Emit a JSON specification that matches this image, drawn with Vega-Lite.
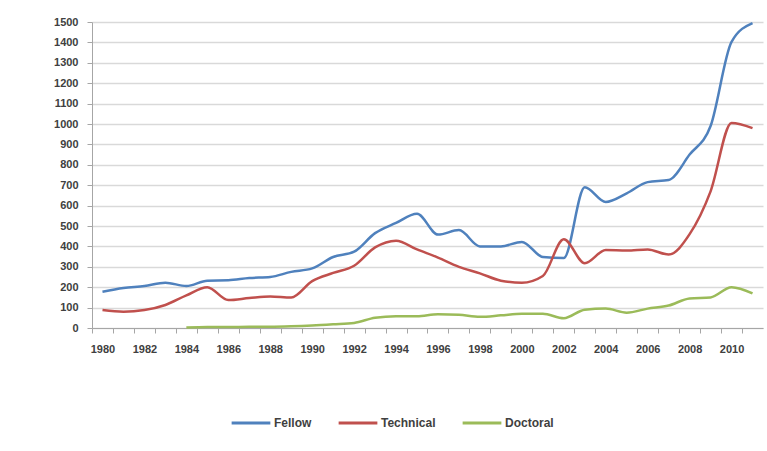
{
  "$schema": "https://vega.github.io/schema/vega-lite/v6.json",
  "autosize": "none",
  "width": 671,
  "height": 306,
  "padding": {"left": 92, "top": 22, "right": 4, "bottom": 123},
  "background": "white",
  "config": {
    "view": {"stroke": null},
    "font": "Liberation Sans",
    "axis": {"labelFont": "Liberation Sans", "labelFontSize": 11, "labelColor": "#404040", "domainColor": "#a6a6a6", "tickColor": "#a6a6a6"}
  },
  "data": {
    "values": [
      {"year": 1980, "series": "Fellow", "value": 178},
      {"year": 1981, "series": "Fellow", "value": 196},
      {"year": 1982, "series": "Fellow", "value": 206},
      {"year": 1983, "series": "Fellow", "value": 222},
      {"year": 1984, "series": "Fellow", "value": 206},
      {"year": 1985, "series": "Fellow", "value": 232},
      {"year": 1986, "series": "Fellow", "value": 234},
      {"year": 1987, "series": "Fellow", "value": 245},
      {"year": 1988, "series": "Fellow", "value": 250},
      {"year": 1989, "series": "Fellow", "value": 275},
      {"year": 1990, "series": "Fellow", "value": 292},
      {"year": 1991, "series": "Fellow", "value": 348},
      {"year": 1992, "series": "Fellow", "value": 374},
      {"year": 1993, "series": "Fellow", "value": 465},
      {"year": 1994, "series": "Fellow", "value": 515},
      {"year": 1995, "series": "Fellow", "value": 560},
      {"year": 1996, "series": "Fellow", "value": 458},
      {"year": 1997, "series": "Fellow", "value": 480},
      {"year": 1998, "series": "Fellow", "value": 400},
      {"year": 1999, "series": "Fellow", "value": 400},
      {"year": 2000, "series": "Fellow", "value": 422},
      {"year": 2001, "series": "Fellow", "value": 348},
      {"year": 2002, "series": "Fellow", "value": 343},
      {"year": 2003, "series": "Fellow", "value": 690},
      {"year": 2004, "series": "Fellow", "value": 618},
      {"year": 2005, "series": "Fellow", "value": 660},
      {"year": 2006, "series": "Fellow", "value": 715},
      {"year": 2007, "series": "Fellow", "value": 725},
      {"year": 2008, "series": "Fellow", "value": 850},
      {"year": 2009, "series": "Fellow", "value": 990},
      {"year": 2010, "series": "Fellow", "value": 1403},
      {"year": 2011, "series": "Fellow", "value": 1495},
      {"year": 1980, "series": "Technical", "value": 88},
      {"year": 1981, "series": "Technical", "value": 80},
      {"year": 1982, "series": "Technical", "value": 88},
      {"year": 1983, "series": "Technical", "value": 113},
      {"year": 1984, "series": "Technical", "value": 160},
      {"year": 1985, "series": "Technical", "value": 200},
      {"year": 1986, "series": "Technical", "value": 137},
      {"year": 1987, "series": "Technical", "value": 147},
      {"year": 1988, "series": "Technical", "value": 155},
      {"year": 1989, "series": "Technical", "value": 150},
      {"year": 1990, "series": "Technical", "value": 230},
      {"year": 1991, "series": "Technical", "value": 270},
      {"year": 1992, "series": "Technical", "value": 305},
      {"year": 1993, "series": "Technical", "value": 395},
      {"year": 1994, "series": "Technical", "value": 428},
      {"year": 1995, "series": "Technical", "value": 385},
      {"year": 1996, "series": "Technical", "value": 345},
      {"year": 1997, "series": "Technical", "value": 300},
      {"year": 1998, "series": "Technical", "value": 268},
      {"year": 1999, "series": "Technical", "value": 232},
      {"year": 2000, "series": "Technical", "value": 222},
      {"year": 2001, "series": "Technical", "value": 255},
      {"year": 2002, "series": "Technical", "value": 435},
      {"year": 2003, "series": "Technical", "value": 318},
      {"year": 2004, "series": "Technical", "value": 382},
      {"year": 2005, "series": "Technical", "value": 380},
      {"year": 2006, "series": "Technical", "value": 385},
      {"year": 2007, "series": "Technical", "value": 360},
      {"year": 2008, "series": "Technical", "value": 460},
      {"year": 2009, "series": "Technical", "value": 670},
      {"year": 2010, "series": "Technical", "value": 1005},
      {"year": 2011, "series": "Technical", "value": 980},
      {"year": 1984, "series": "Doctoral", "value": 2},
      {"year": 1985, "series": "Doctoral", "value": 5},
      {"year": 1986, "series": "Doctoral", "value": 5},
      {"year": 1987, "series": "Doctoral", "value": 6},
      {"year": 1988, "series": "Doctoral", "value": 6},
      {"year": 1989, "series": "Doctoral", "value": 8},
      {"year": 1990, "series": "Doctoral", "value": 12},
      {"year": 1991, "series": "Doctoral", "value": 18},
      {"year": 1992, "series": "Doctoral", "value": 25},
      {"year": 1993, "series": "Doctoral", "value": 50},
      {"year": 1994, "series": "Doctoral", "value": 58},
      {"year": 1995, "series": "Doctoral", "value": 58},
      {"year": 1996, "series": "Doctoral", "value": 68},
      {"year": 1997, "series": "Doctoral", "value": 65},
      {"year": 1998, "series": "Doctoral", "value": 55},
      {"year": 1999, "series": "Doctoral", "value": 62},
      {"year": 2000, "series": "Doctoral", "value": 70},
      {"year": 2001, "series": "Doctoral", "value": 70},
      {"year": 2002, "series": "Doctoral", "value": 48},
      {"year": 2003, "series": "Doctoral", "value": 90},
      {"year": 2004, "series": "Doctoral", "value": 95},
      {"year": 2005, "series": "Doctoral", "value": 75},
      {"year": 2006, "series": "Doctoral", "value": 95},
      {"year": 2007, "series": "Doctoral", "value": 110},
      {"year": 2008, "series": "Doctoral", "value": 145},
      {"year": 2009, "series": "Doctoral", "value": 150},
      {"year": 2010, "series": "Doctoral", "value": 200},
      {"year": 2011, "series": "Doctoral", "value": 170}
    ]
  },
  "mark": {"type": "line", "strokeWidth": 2.5, "interpolate": "monotone"},
  "encoding": {
    "x": {
      "field": "year",
      "type": "quantitative",
      "scale": {"domain": [1979.5, 2011.5], "nice": false, "zero": false},
      "axis": {
        "title": null,
        "values": [1980,1981,1982,1983,1984,1985,1986,1987,1988,1989,1990,1991,1992,1993,1994,1995,1996,1997,1998,1999,2000,2001,2002,2003,2004,2005,2006,2007,2008,2009,2010,2011],
        "labelExpr": "datum.value % 2 === 0 ? datum.value : ''",
        "format": "d",
        "grid": false,
        "tickSize": 5,
        "tickOffset": -10.5,
        "labelOffset": 10.5,
        "labelPadding": 10,
        "labelFontWeight": "bold",
        "labelFlush": false,
        "labelOverlap": false
      }
    },
    "y": {
      "field": "value",
      "type": "quantitative",
      "scale": {"domain": [0, 1500], "nice": false},
      "axis": {
        "title": null,
        "values": [0,100,200,300,400,500,600,700,800,900,1000,1100,1200,1300,1400,1500],
        "format": "d",
        "gridColor": "#d9d9d9",
        "gridWidth": 1.5,
        "tickSize": 5,
        "labelPadding": 9,
        "labelFontWeight": "bold"
      }
    },
    "color": {
      "field": "series",
      "type": "nominal",
      "sort": ["Fellow", "Technical", "Doctoral"],
      "scale": {"domain": ["Fellow", "Technical", "Doctoral"], "range": ["#4F81BD", "#C0504D", "#9BBB59"]},
      "legend": {
        "title": null,
        "orient": "none",
        "direction": "horizontal",
        "legendX": 138,
        "legendY": 380,
        "symbolType": "stroke",
        "symbolSize": 1500,
        "symbolStrokeWidth": 3,
        "labelFontSize": 12,
        "labelFontWeight": "bold",
        "labelColor": "#404040",
        "labelOffset": 2,
        "columnPadding": 20
      }
    }
  }
}
